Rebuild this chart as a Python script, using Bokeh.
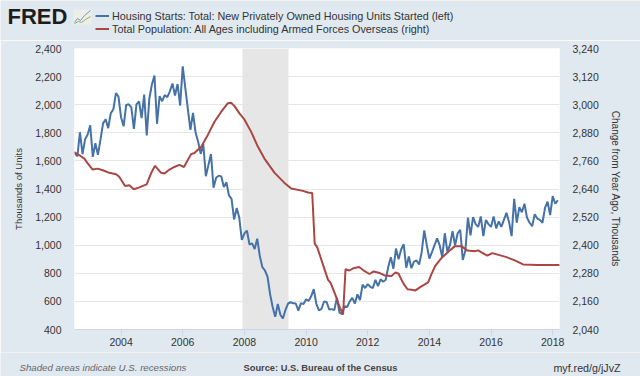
from bokeh.plotting import figure
from bokeh.embed import file_html
from bokeh.resources import INLINE
from bokeh.layouts import column
from bokeh.models import (Range1d, LinearAxis, FixedTicker, NumeralTickFormatter, Label, Legend,
                          LegendItem)

BG = "#e1e9f0"
START_YEAR = 2002 + 6 / 12

starts_2002 = [1655, 1633, 1804, 1648, 1753, 1788]
starts_2003 = [1853, 1629, 1726, 1643, 1751, 1867, 1897, 1833, 1939, 1967, 2083, 2057]
starts_2004 = [1911, 1846, 1998, 2003, 1981, 1828, 2002, 2024, 1905, 2072, 1782, 2042]
starts_2005 = [2144, 2207, 1864, 2061, 2025, 2068, 2054, 2095, 2151, 2065, 2147, 1994]
starts_2006 = [2273, 2119, 1969, 1821, 1942, 1802, 1737, 1650, 1720, 1491, 1570, 1649]
starts_2007 = [1409, 1480, 1495, 1490, 1415, 1448, 1354, 1330, 1183, 1264, 1197, 1037]
starts_2008 = [1084, 1103, 1005, 1013, 973, 1046, 923, 844, 820, 777, 652, 560]
starts_2009 = [490, 582, 505, 478, 540, 585, 594, 586, 585, 534, 588, 581]
starts_2010 = [614, 604, 636, 687, 583, 536, 546, 599, 596, 543, 545, 539]
starts_2011 = [625, 520, 510, 565, 560, 600, 625, 585, 650, 610, 720, 695]
starts_2012 = [723, 704, 695, 753, 708, 757, 740, 754, 847, 915, 833, 976]
starts_2013 = [900, 969, 1007, 840, 920, 836, 883, 891, 863, 950, 1105, 1000]
starts_2014 = [905, 950, 1000, 1048, 1000, 915, 1085, 955, 1000, 1100, 1000, 1085]
starts_2015 = [1110, 895, 960, 1197, 1070, 1200, 1150, 1130, 1205, 1065, 1180, 1150]
starts_2016 = [1130, 1205, 1120, 1170, 1130, 1180, 1230, 1165, 1065, 1330, 1160, 1270]
starts_2017 = [1235, 1295, 1195, 1160, 1135, 1220, 1190, 1180, 1160, 1265, 1310, 1215]
starts_2018 = [1350, 1295, 1320]
housing_starts = (starts_2002 + starts_2003 + starts_2004 + starts_2005 + starts_2006 + starts_2007
                  + starts_2008 + starts_2009 + starts_2010 + starts_2011 + starts_2012 + starts_2013
                  + starts_2014 + starts_2015 + starts_2016 + starts_2017 + starts_2018)
housing_dates = [START_YEAR + i / 12 for i in range(len(housing_starts))]

population_dates = [
    2002.48, 2002.65, 2002.81, 2002.92, 2003.08, 2003.24, 2003.41, 2003.62, 2003.84, 2003.94,
    2004.13, 2004.27, 2004.41, 2004.59, 2004.83, 2004.97, 2005.10, 2005.30, 2005.41, 2005.57,
    2005.73, 2005.89, 2006.04, 2006.27, 2006.38, 2006.60, 2006.81, 2007.03, 2007.25, 2007.46,
    2007.57, 2007.68, 2007.84, 2008.00, 2008.22, 2008.44, 2008.65, 2008.98, 2009.30, 2009.52,
    2009.90, 2010.06, 2010.20, 2010.28, 2010.36, 2010.71, 2010.80, 2010.98, 2011.09, 2011.20,
    2011.28, 2011.41, 2011.54, 2011.72, 2011.90, 2012.06, 2012.19, 2012.39, 2012.55, 2012.77,
    2012.90, 2013.00, 2013.15, 2013.29, 2013.42, 2013.55, 2013.69, 2013.96, 2014.06, 2014.19,
    2014.39, 2014.66, 2014.82, 2015.04, 2015.23, 2015.47, 2015.58, 2015.69, 2015.88, 2016.04,
    2016.50, 2016.77, 2017.04, 2017.53, 2018.23]
population_change = [
    2798, 2784, 2770, 2749, 2723, 2727, 2720, 2709, 2703, 2692,
    2653, 2656, 2639, 2647, 2660, 2706, 2739, 2709, 2706, 2723,
    2734, 2743, 2734, 2789, 2794, 2820, 2870, 2927, 2970, 3006,
    3008, 2994, 2963, 2937, 2884, 2820, 2770, 2709, 2666, 2642,
    2632, 2625, 2623, 2407, 2392, 2253, 2238, 2178, 2135, 2104,
    2297, 2292, 2302, 2307, 2289, 2277, 2288, 2281, 2271, 2268,
    2284, 2278, 2238, 2212, 2210, 2207, 2220, 2241, 2274, 2312,
    2345, 2377, 2395, 2396, 2377, 2374, 2378, 2369, 2355, 2366,
    2349, 2335, 2318, 2315, 2315]

recession_start = 2007.94
recession_end = 2009.43
left_ticks = [400, 600, 800, 1000, 1200, 1400, 1600, 1800, 2000, 2200, 2400]
right_ticks = [2040, 2160, 2280, 2400, 2520, 2640, 2760, 2880, 3000, 3120, 3240]
year_ticks = [2004, 2006, 2008, 2010, 2012, 2014, 2016, 2018]
series_names = ["Housing Starts: Total: New Privately Owned Housing Units Started (left)",
                "Total Population: All Ages including Armed Forces Overseas (right)"]
left_title = "Thousands of Units"
right_title = "Change from Year Ago, Thousands"
note = "Shaded areas indicate U.S. recessions"
source = "Source: U.S. Bureau of the Census"
link = "myf.red/g/jJvZ"

FONT = "Liberation Sans"
TEXT = "#333333"
BLUE = "#4572a7"
RED = "#aa4643"
HEADER_H = 40
MAIN_H = 312
FOOTER_H = 24

p = figure(width=640, height=MAIN_H, output_backend="svg", toolbar_location=None,
           x_range=Range1d(2002.49, 2018.22), y_range=Range1d(400, 2400),
           background_fill_color="white", border_fill_color=BG, outline_line_color=None,
           min_border_left=74, min_border_right=81, min_border_top=8, min_border_bottom=23)
p.extra_y_ranges = {"right": Range1d(2040, 3240)}

p.xgrid.visible = False
p.ygrid.ticker = FixedTicker(ticks=left_ticks)
p.ygrid.grid_line_color = "#e6e6e6"

xa = p.xaxis[0]
xa.ticker = FixedTicker(ticks=year_ticks)
xa.formatter = NumeralTickFormatter(format="0")
xa.axis_line_color = "#ccd6eb"
xa.major_tick_line_color = "#ccd6eb"
xa.major_tick_in = 0
xa.major_tick_out = 6
xa.minor_tick_line_color = None
xa.major_label_text_font = FONT
xa.major_label_text_font_size = "10.5px"
xa.major_label_text_color = TEXT
xa.major_label_standoff = 2

ya = p.yaxis[0]
ya.ticker = FixedTicker(ticks=left_ticks)
ya.formatter = NumeralTickFormatter(format="0,0")
ya.axis_line_color = None
ya.major_tick_line_color = None
ya.minor_tick_line_color = None
ya.major_label_text_font = FONT
ya.major_label_text_font_size = "10.5px"
ya.major_label_text_color = TEXT
ya.major_label_standoff = 7
ya.axis_label = left_title
ya.axis_label_text_font = FONT
ya.axis_label_text_font_size = "9.5px"
ya.axis_label_text_font_style = "normal"
ya.axis_label_text_color = TEXT
ya.axis_label_standoff = 8

ra = LinearAxis(y_range_name="right", ticker=FixedTicker(ticks=right_ticks),
                formatter=NumeralTickFormatter(format="0,0"), axis_line_color=None,
                major_tick_line_color=None, minor_tick_line_color=None,
                major_label_text_font=FONT, major_label_text_font_size="10.5px",
                major_label_text_color=TEXT, major_label_standoff=7,
                axis_label=right_title, axis_label_text_font=FONT,
                axis_label_text_font_size="10px", axis_label_text_font_style="normal",
                axis_label_text_color=TEXT, axis_label_standoff=8)
p.add_layout(ra, "right")

p.quad(left=[recession_start], right=[recession_end], bottom=[400], top=[2400],
       fill_color="#e6e6e6", line_color=None)
p.line(housing_dates, housing_starts, line_color=BLUE, line_width=2)
p.line(population_dates, population_change, line_color=RED, line_width=2, y_range_name="right")


def strip(height):
    f = figure(width=640, height=height, output_backend="svg", toolbar_location=None,
               x_range=Range1d(0, 640), y_range=Range1d(height, 0),
               x_axis_type=None, y_axis_type=None, background_fill_color=BG,
               border_fill_color=BG, outline_line_color=None,
               min_border_left=0, min_border_right=0, min_border_top=0, min_border_bottom=0)
    f.grid.visible = False
    return f


def text(f, x, y, s, size="10.5px", style="normal", color=TEXT, align="left"):
    f.add_layout(Label(x=x, y=y, text=s, text_font=FONT, text_font_size=size,
                       text_font_style=style, text_color=color, text_align=align,
                       text_baseline="middle"))


header = strip(HEADER_H)
text(header, 7, 16, "FRED", size="22px", style="bold", color="#1d1d1d")
header.quad(left=[73], right=[91], top=[9], bottom=[24], fill_color="#eeeee8", line_color=None)
header.line([74, 77, 80, 84, 90], [22, 18, 20, 15, 10], line_color="#6f96bd", line_width=1)
header.line([74, 78, 81, 85, 90], [23, 21, 22, 19, 16], line_color="#8fae6a", line_width=1)
swatch_a = header.line([-9, -5], [-9, -9], line_color=BLUE, line_width=2)
swatch_b = header.line([-9, -5], [-9, -9], line_color=RED, line_width=2)
legend = Legend(items=[LegendItem(label=series_names[0], renderers=[swatch_a]),
                       LegendItem(label=series_names[1], renderers=[swatch_b])],
                location=(95, 5), orientation="vertical", background_fill_alpha=0,
                border_line_color=None, margin=0, padding=0, spacing=0,
                glyph_width=14, glyph_height=13, label_height=13, label_standoff=3,
                label_text_font=FONT, label_text_font_size="10.8px", label_text_color=TEXT)
header.add_layout(legend, "center")

footer = strip(FOOTER_H)
text(footer, 19, 15, note, size="9.7px", style="italic", color="#666666")
text(footer, 243, 15, source, size="9.3px", style="bold", color="#444444")
text(footer, 620, 15, link, size="10.7px", align="right")

page = column(column(header), p, column(footer), spacing=0)
open("out.html", "w").write(file_html(page, INLINE))
